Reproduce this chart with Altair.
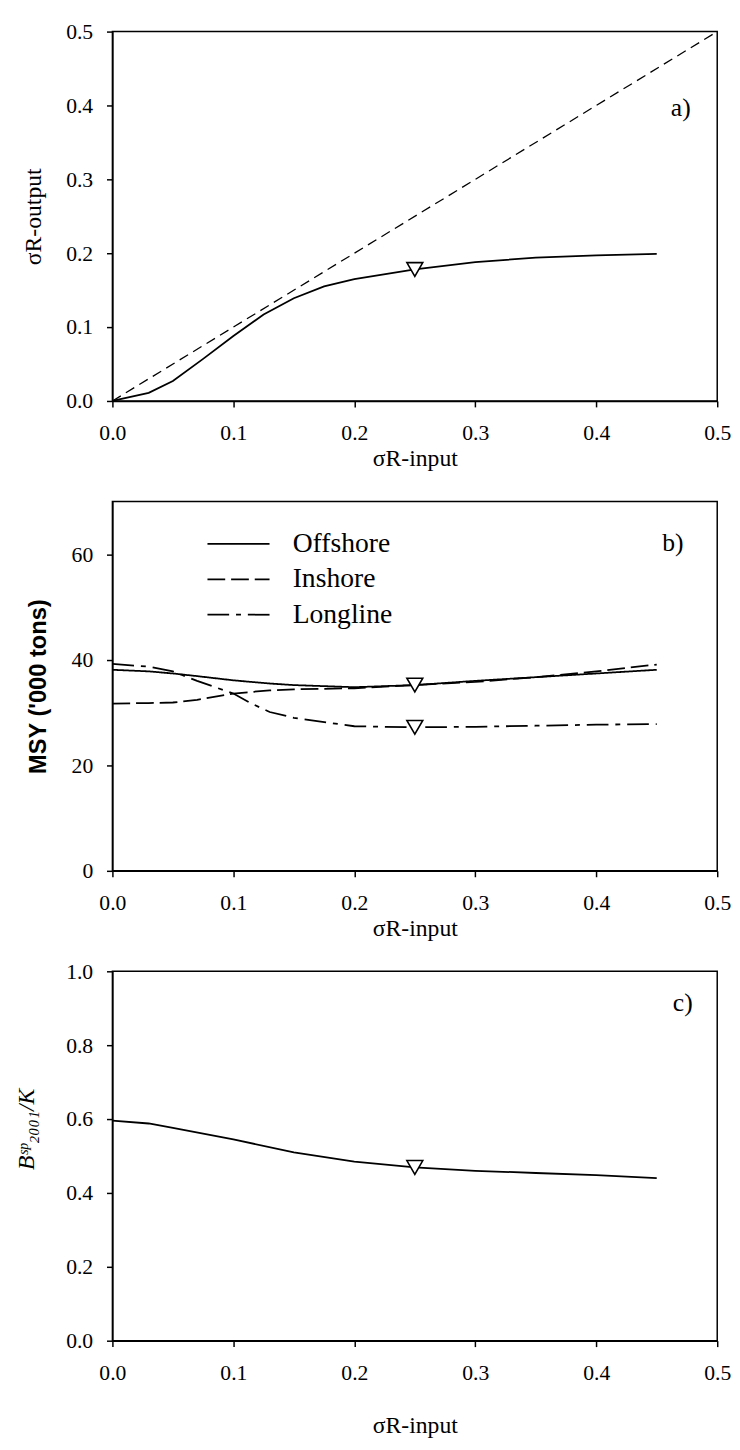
import altair as alt
import pandas as pd

# ---------------- data ----------------
x_ticks = [0.0, 0.1, 0.2, 0.3, 0.4, 0.5]

# panel a
a_in = [0.0, 0.03, 0.05, 0.075, 0.1, 0.125, 0.15, 0.175, 0.2, 0.25, 0.3, 0.35, 0.4, 0.45]
a_out = [0.0, 0.011, 0.027, 0.057, 0.088, 0.117, 0.139, 0.155, 0.165, 0.178, 0.188, 0.194, 0.197, 0.199]
diag_in = [0.0, 0.5]
diag_out = [0.0, 0.5]
a_base_in = [0.25]
a_base_out = [0.178]

# panel b
b_in = [0.0, 0.03, 0.05, 0.07, 0.1, 0.115, 0.13, 0.15, 0.2, 0.25, 0.3, 0.35, 0.4, 0.45]
offshore = [38.1, 37.8, 37.4, 36.9, 36.1, 35.8, 35.5, 35.2, 34.8, 35.2, 36.0, 36.7, 37.4, 38.1]
inshore = [31.7, 31.8, 31.9, 32.4, 33.6, 33.9, 34.2, 34.4, 34.6, 35.2, 35.8, 36.7, 37.8, 39.1]
longline = [39.2, 38.7, 37.8, 36.0, 33.6, 31.7, 30.1, 29.0, 27.4, 27.2, 27.3, 27.5, 27.7, 27.8]
series = ["Offshore", "Inshore", "Longline"]
b_base_in = [0.25, 0.25]
b_base_msy = [35.2, 27.2]

# panel c
c_in = [0.0, 0.03, 0.05, 0.1, 0.15, 0.2, 0.25, 0.3, 0.35, 0.4, 0.45]
c_ratio = [0.596, 0.588, 0.576, 0.545, 0.510, 0.485, 0.469, 0.460, 0.454, 0.448, 0.440]
c_base_in = [0.25]
c_base_ratio = [0.469]

# ---------------- frames ----------------
df_a = pd.DataFrame({"x": a_in, "y": a_out})
df_diag = pd.DataFrame({"x": diag_in, "y": diag_out})
df_a_base = pd.DataFrame({"x": a_base_in, "y": a_base_out})
df_b = pd.concat([
    pd.DataFrame({"x": b_in, "y": vals, "fleet": name})
    for name, vals in zip(series, [offshore, inshore, longline])
])
df_b_base = pd.DataFrame({"x": b_base_in, "y": b_base_msy})
df_c = pd.DataFrame({"x": c_in, "y": c_ratio})
df_c_base = pd.DataFrame({"x": c_base_in, "y": c_base_ratio})

W, H = 614, 375
SERIF = "Liberation Serif"
LW = 1.8
xscale = alt.Scale(domain=[0, 0.5], nice=False, zero=False)


def xenc(title_pad):
    return alt.X("x:Q", scale=xscale,
                 axis=alt.Axis(values=x_ticks, format=".1f", title="σR-input",
                               titlePadding=title_pad))


def marker(df, yenc):
    return alt.Chart(df).mark_point(shape="triangle-down", size=260, filled=True,
                                    fill="white", stroke="black", strokeWidth=1.6,
                                    opacity=1).encode(x="x:Q", y=yenc)


def panel_label(txt, px, py):
    return alt.Chart(pd.DataFrame({"t": [txt]})).mark_text(
        font=SERIF, fontSize=26, color="black", align="center", baseline="middle"
    ).encode(text="t:N", x=alt.value(px), y=alt.value(py))


# ---- panel a ----
ya = alt.Y("y:Q", scale=alt.Scale(domain=[0, 0.5], nice=False),
           axis=alt.Axis(values=[0, 0.1, 0.2, 0.3, 0.4, 0.5], format=".1f",
                         title="σR-output", titleX=-80, titleBaseline="middle"))
line_a = alt.Chart(df_a).mark_line(color="black", strokeWidth=LW).encode(x=xenc(4), y=ya)
diag = alt.Chart(df_diag).mark_line(color="black", strokeWidth=1.3, strokeDash=[10, 6]).encode(x="x:Q", y="y:Q")
pa = alt.layer(line_a, diag, marker(df_a_base, "y:Q"), panel_label("a)", 577, 78)).properties(width=W, height=H)

# ---- panel b ----
yb = alt.Y("y:Q", scale=alt.Scale(domain=[0, 70], nice=False),
           axis=alt.Axis(values=[0, 20, 40, 60], format="d", title="MSY ('000 tons)",
                         titleFont="Liberation Sans", titleFontWeight="bold",
                         titleFontSize=24, titleX=-75, titleBaseline="middle"))
line_b = alt.Chart(df_b).mark_line(color="black", strokeWidth=LW).encode(
    x=xenc(4), y=yb,
    strokeDash=alt.StrokeDash("fleet:N",
                              scale=alt.Scale(domain=series,
                                              range=[[1, 0], [18, 6], [22, 7, 5, 7]]),
                              legend=alt.Legend(title=None, orient="none", legendX=114, legendY=506,
                                                symbolType="M-3,0H3", symbolSize=441,
                                                symbolStrokeWidth=LW, symbolStrokeColor="black",
                                                labelFont=SERIF, labelFontSize=28,
                                                labelColor="black", labelOffset=41,
                                                rowPadding=8)),
    detail="fleet:N")
pb = alt.layer(line_b, marker(df_b_base, "y:Q"), panel_label("b)", 569, 42)).properties(width=W, height=H)

# ---- panel c ----
yc = alt.Y("y:Q", scale=alt.Scale(domain=[0, 1.0], nice=False),
           axis=alt.Axis(values=[0, 0.2, 0.4, 0.6, 0.8, 1.0], format=".1f",
                         title="Bˢᵖ₂₀₀₁/K", titleFontStyle="italic",
                         titleX=-87, titleY=160, titleBaseline="middle"))
line_c = alt.Chart(df_c).mark_line(color="black", strokeWidth=LW).encode(x=xenc(31), y=yc)
pc = alt.layer(line_c, marker(df_c_base, "y:Q"), panel_label("c)", 579, 32)).properties(width=W, height=H)

chart = alt.vconcat(pa, pb, pc, spacing=102, bounds="flush").properties(
    padding={"left": 6, "top": 1, "right": 0, "bottom": 0}
).configure(background="white").configure_view(
    stroke="black", strokeWidth=1.5
).configure_axis(
    domainColor="black", domainWidth=1.5, tickColor="black", tickWidth=1.5, tickSize=6,
    labelFont=SERIF, labelFontSize=22, labelColor="black", labelPadding=14,
    titleFont=SERIF, titleFontSize=24, titleFontWeight="normal", titleColor="black",
    grid=False, labelFlush=False, labelOverlap=False
).configure_axisX(labelPadding=16)

chart.save("out.html", embed_options={"renderer": "svg", "actions": False})
